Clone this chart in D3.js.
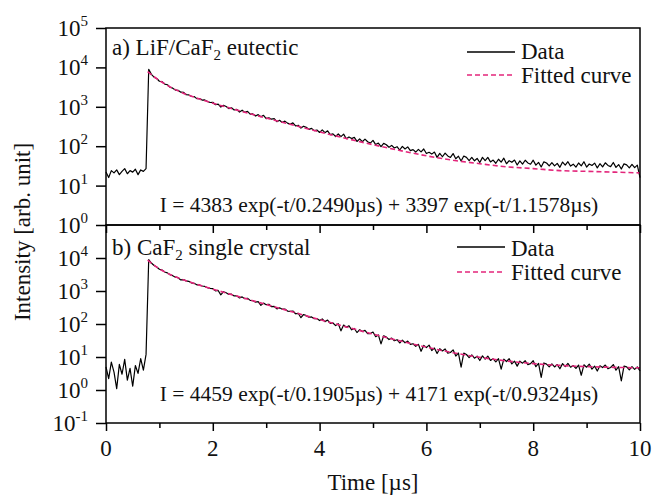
<!DOCTYPE html>
<html><head><meta charset="utf-8">
<script src="https://cdn.jsdelivr.net/npm/d3@7"></script>
<style>
body{margin:0;background:#fff;}
svg text{font-family:'Liberation Serif','Times New Roman','DejaVu Serif',serif;fill:#111;}
</style>
</head><body>
<svg id="c" width="654" height="496" font-family="Liberation Serif, Times New Roman, serif"></svg>
<script>
// ---------------- data ----------------
const timeStep = 0.05; // µs between recorded samples (0 … 10 µs)

const dataA = [
22,16,24,21,25,19,23,27,20,24,22,26,19,25,23,27,
8900,
6650,5640,5220,4450,4340,3780,3630,3130,2970,2650,2620,2350,2340,2030,2000,1855,1820,1610,1625,1480,1495,1370,1285,1305,
1129,1170,988,1096,1017,898,947,831,856,737,820,722,767,649,659,583,632,560,609,500,
525,485,499,419,454,400,433,385,358,391,326,340,288,322,301,267,283,249,258,223,
259,220,245,197,206,176,204,175,202,155,172,156,168,132,154,130,151,130,120,140,
110,120,97,118,109,94,105,90,97,80,99,85,96,77,82,71,83,72,85,65,
70,63,71,52,66,54,67,56.5,51.8,65,48,55.8,42.3,56.3,52.1,43.3,52,42.7,48.9,38.6,
52,43.2,52,40,44.4,36.9,46.7,39.4,49.7,35.9,42.8,39.1,44.5,33.3,42.3,35.2,44,37.6,34.9,44.2,
33.1,38.8,29.7,40.1,37.5,31.5,38.2,31.7,36.6,29.1,39.6,33.2,40.4,31.3,35,29.4,37.5,31.8,40.4,29.5,
35.3,32.5,37.3,28.1,35.9,29.9,37.9,32.5,30.3,38.6,29,34.2,26.3,35.6,33.5,28.3,34.4,28.6,33.2,16
];

const dataB = [
5,2.2,7,3.5,1.1,6,3,8.5,2,4.5,1.3,5.5,3.2,9,4,12,
9000,
7045,5937,5348,4562,4295,3761,3541,3111,2915,2624,2529,2165,2209,2022,1966,1758,1706,1536,1526,1417,1377,1253,1200,1177,
1011,1039,764,952,881,786,802,708,712,617,661,584,602,520,514,458,474,366,429,385,
397,334,340,288,309,281,285,247,241,248,204,211,155,194,179.5,160,164,145,146,127,
142,118,131.5,104,107.6,89.6,101.8,61.9,93.1,79.4,88.5,66.6,73.1,55.1,67.5,59.1,63.9,50.9,51.4,57.2,
41.3,46.6,24.9,44,40.1,33.8,37.5,31.1,33.4,26.6,32.4,27,30.3,24.2,25.2,21.1,24.2,14.9,22.5,19.3,
22.9,15.7,18.7,12.7,17.8,15.2,17.5,13.1,13.7,16.5,10.7,13.2,4.9,13.1,11.9,9.6,11.6,9.2,10.6,7.8,
10.8,8.6,10.6,7.9,8.8,7.1,8.9,4.3,8.6,7.3,8.9,6.2,7.5,5.3,7.5,6.5,7.7,5.9,6.3,7.7,
5.1,6.4,2.4,6.6,6.1,5.0,6.2,5.0,5.9,4.4,6.3,5.1,6.4,4.9,5.5,4.5,5.7,2.8,5.8,4.9,
6.1,4.3,5.3,3.75,5.4,4.8,5.7,4.4,4.8,5.9,4.0,5.1,1.9,5.3,5.0,4.1,5.1,4.2,5.0,3.8
];

const fitTimes = [0.78,0.85,0.9,0.95,1.0,1.1,1.2,1.3,1.4,1.5,1.6,1.75,1.9,2.0,2.25,2.5,2.75,3,3.5,4,4.5,5,5.5,6,6.5,7,7.5,8,8.5,9,9.5,10];
const fitA = [7800,6527,5790,5167,4641,3809,3195,2731,2372,2087,1856,1579,1360,1237,986,793,639,519,344,230,157,109,78,57,44,36,30,27,24,23,22,21];
const fitB = [8635,6961,6046,5308,4703,3795,3154,2684,2322,2034,1796,1506,1272,1139,869,664,509,390,230,136.5,81.7,49.6,30.9,19.9,13.5,9.8,7.6,6.3,5.56,5.12,4.86,4.71];

const xMajorTicks = [0,2,4,6,8,10];
const xMinorTicks = [1,3,5,7,9];
const yExpA = [0,1,2,3,4,5];
const yExpB = [-1,0,1,2,3,4];
const legendLabels = ["Data","Fitted curve"];
const panelLabelA = ["a) LiF/CaF", "2", " eutectic"];
const panelLabelB = ["b) CaF", "2", " single crystal"];
const equationA = "I = 4383 exp(-t/0.2490\u00b5s) + 3397 exp(-t/1.1578\u00b5s)";
const equationB = "I = 4459 exp(-t/0.1905\u00b5s) + 4171 exp(-t/0.9324\u00b5s)";
const xTitle = "Time [\u00b5s]";
const yTitle = "Intensity [arb. unit]";

// ---------------- layout ----------------
const FONT = "'Liberation Serif', 'Times New Roman', serif";
const svg = d3.select("#c");
const L = 106, R = 640;
const pink = "#e3267b";
const x = d3.scaleLinear().domain([0, 10]).range([L, R]);

function txt(sel, size) {
  return sel.append("text").attr("font-family", FONT).style("font-family", FONT)
    .style("font-size", size + "px").attr("fill", "#111");
}

const panels = [
  {top: 28, bottom: 225, domain: [1, 1e5], data: dataA, fit: fitA, exps: yExpA,
   label: panelLabelA, labelY: 55, eq: equationA, eqY: 212,
   leg: {x1: 467, x2: 515, y1: 52, y2: 75, tx: 521, t1: 59, t2: 83}},
  {top: 225, bottom: 423, domain: [0.1, 1e5], data: dataB, fit: fitB, exps: yExpB,
   label: panelLabelB, labelY: 255, eq: equationB, eqY: 401,
   leg: {x1: 457, x2: 505, y1: 247, y2: 272, tx: 511, t1: 256, t2: 280}}
];

panels.forEach((p, pi) => {
  const y = d3.scaleLog().domain(p.domain).range([p.bottom, p.top]);
  const g = svg.append("g");

  const dataLine = d3.line().x((d, i) => x(i * timeStep)).y(d => y(d));
  g.append("path").datum(p.data).attr("d", dataLine)
    .attr("fill", "none").attr("stroke", "#000").attr("stroke-width", 1.2)
    .attr("stroke-linejoin", "round");

  const fitLine = d3.line().x((d, i) => x(fitTimes[i])).y(d => y(d)).curve(d3.curveMonotoneX);
  g.append("path").datum(p.fit).attr("d", fitLine)
    .attr("fill", "none").attr("stroke", pink).attr("stroke-width", 1.6)
    .attr("stroke-dasharray", "5,3");

  const yAxis = d3.axisLeft(y).tickValues(p.exps.map(e => Math.pow(10, e)))
    .tickSize(10).tickFormat("");
  const ya = g.append("g").attr("transform", `translate(${L},0)`).call(yAxis);
  ya.select(".domain").remove();
  ya.selectAll("line").attr("stroke", "#000").attr("stroke-width", 1.5);

  p.exps.forEach(e => {
    const t = txt(g, 23).attr("x", 88).attr("y", y(Math.pow(10, e)) + 8).attr("text-anchor", "end");
    t.append("tspan").text("10");
    t.append("tspan").attr("dy", -10).style("font-size", "15px").text(String(e));
  });

  const xMaj = d3.axisBottom(x).tickValues(xMajorTicks).tickSize(8).tickFormat("");
  const xMin = d3.axisBottom(x).tickValues(xMinorTicks).tickSize(5).tickFormat("");
  [xMaj, xMin].forEach(ax => {
    const a = g.append("g").attr("transform", `translate(0,${p.bottom})`).call(ax);
    a.select(".domain").remove();
    a.selectAll("line").attr("stroke", "#000").attr("stroke-width", 1.5);
  });

  g.append("rect").attr("x", L).attr("y", p.top).attr("width", R - L).attr("height", p.bottom - p.top)
    .attr("fill", "none").attr("stroke", "#000").attr("stroke-width", 1.5);

  const pl = txt(g, 23).attr("x", 112).attr("y", p.labelY);
  pl.append("tspan").text(p.label[0]);
  pl.append("tspan").attr("dy", 5).style("font-size", "15px").text(p.label[1]);
  pl.append("tspan").attr("dy", -5).text(p.label[2]);

  txt(g, 21.5).attr("x", 379).attr("y", p.eqY).attr("text-anchor", "middle").text(p.eq);

  const lg = p.leg;
  g.append("line").attr("x1", lg.x1).attr("x2", lg.x2).attr("y1", lg.y1).attr("y2", lg.y1)
    .attr("stroke", "#000").attr("stroke-width", 1.5);
  g.append("line").attr("x1", lg.x1).attr("x2", lg.x2).attr("y1", lg.y2).attr("y2", lg.y2)
    .attr("stroke", pink).attr("stroke-width", 1.6).attr("stroke-dasharray", "5,3");
  txt(g, 23).attr("x", lg.tx).attr("y", lg.t1).text(legendLabels[0]);
  txt(g, 23).attr("x", lg.tx).attr("y", lg.t2).text(legendLabels[1]);

  if (pi === 1) {
    xMajorTicks.forEach(v => {
      txt(g, 23).attr("x", x(v)).attr("y", 456).attr("text-anchor", "middle").text(String(v));
    });
  }
});

txt(svg, 23).attr("x", 373).attr("y", 490).attr("text-anchor", "middle").text(xTitle);
txt(svg, 23).attr("transform", "translate(30,232) rotate(-90)").attr("text-anchor", "middle").text(yTitle);
</script>
</body></html>
